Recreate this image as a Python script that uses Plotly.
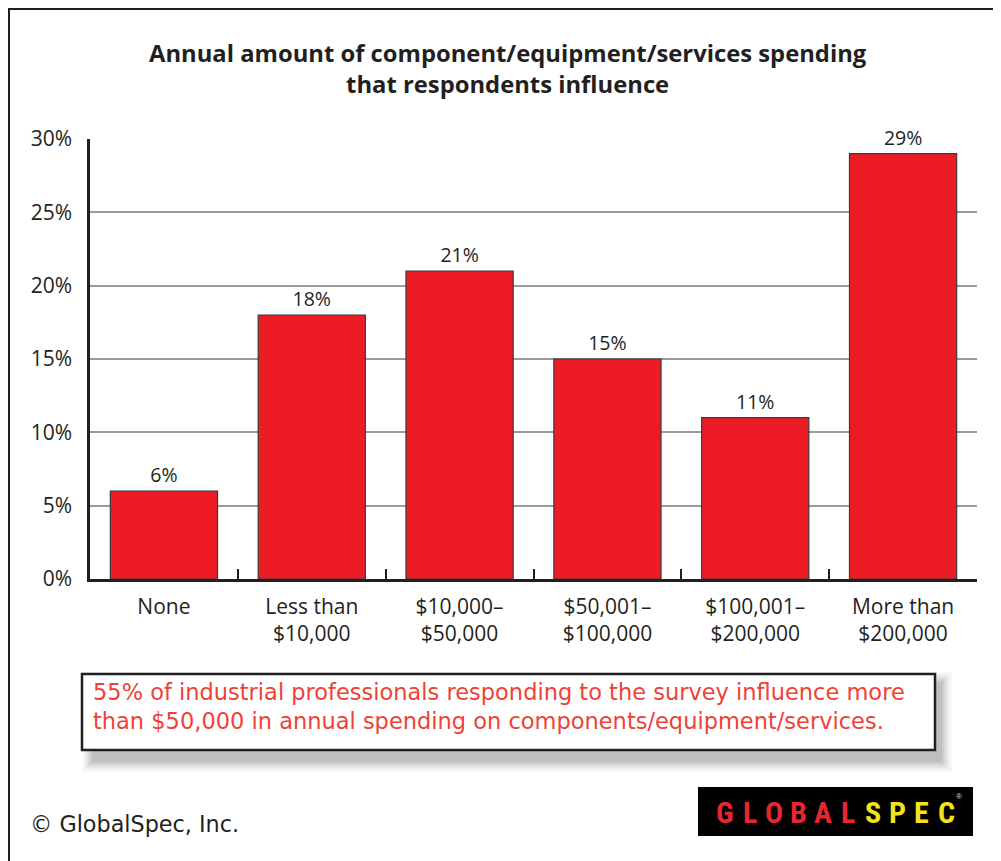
import plotly.graph_objects as go

# ---------------- data ----------------
categories = ["None", "Less than<br>$10,000", "$10,000–<br>$50,000",
              "$50,001–<br>$100,000", "$100,001–<br>$200,000", "More than<br>$200,000"]
values = [6, 18, 21, 15, 11, 29]
value_labels = ["6%", "18%", "21%", "15%", "11%", "29%"]
y_ticks = [0, 5, 10, 15, 20, 25, 30]
y_tick_labels = ["0%", "5%", "10%", "15%", "20%", "25%", "30%"]

title_text = "Annual amount of component/equipment/services spending<br>that respondents influence"
note_lines = ["55% of industrial professionals responding to the survey influence more",
              "than $50,000 in annual spending on components/equipment/services."]
copyright_text = "© GlobalSpec, Inc."
logo_letters = list("GLOBALSPEC")

# ---------------- geometry (page pixels) ----------------
PAGE_W, PAGE_H = 1001, 861
OFF = 8                       # default body margin of the html page
W, H = PAGE_W - OFF, PAGE_H - OFF
L, R, T, B = 90, 977, 139, 579   # plot area edges in page pixels


def px(x):
    return (x - L) / (R - L)


def py(y):
    return (B - y) / (B - T)


MYRIAD = "'Open Sans', Lato, sans-serif"
HELV = "'DejaVu Sans', 'Liberation Sans', sans-serif"
CONDENSED = "'Roboto Condensed', 'DejaVu Sans Condensed', 'Liberation Sans Narrow', 'Arial Narrow', sans-serif"
DARK = "#231F20"

fig = go.Figure()
fig.add_trace(go.Bar(
    x=categories, y=values, text=value_labels,
    marker=dict(color="#ED1C24", line=dict(color="#3a3a3a", width=1.2)),
    textposition="outside",
    textfont=dict(family=MYRIAD, size=19.5, color=DARK),
    cliponaxis=False, width=0.725, hoverinfo="skip",
))

shapes = []
# outer frame
shapes.append(dict(type="rect", xref="paper", yref="paper",
                   x0=px(9), x1=px(997), y0=py(9), y1=py(900),
                   line=dict(color=DARK, width=2), fillcolor="rgba(0,0,0,0)", layer="below"))
# soft shadow for the note box
for i, op in enumerate([0.035, 0.045, 0.055, 0.065, 0.075, 0.085]):
    g = 12 - 2 * i
    shapes.append(dict(type="rect", xref="paper", yref="paper",
                       x0=px(94 - g), x1=px(940 + g),
                       y0=py(684 - g), y1=py(760 + g),
                       line=dict(width=0), fillcolor=f"rgba(60,60,60,{op})", layer="above"))
# note box
shapes.append(dict(type="rect", xref="paper", yref="paper",
                   x0=px(82), x1=px(935), y0=py(674), y1=py(750),
                   line=dict(color=DARK, width=2.5), fillcolor="white", layer="above"))
# logo background
shapes.append(dict(type="rect", xref="paper", yref="paper",
                   x0=px(698), x1=px(973), y0=py(787), y1=py(836),
                   line=dict(width=0), fillcolor="black", layer="above"))

annotations = []
annotations.append(dict(xref="paper", yref="paper", x=px(508), y=py(68),
                        text=f"<b>{title_text}</b>", showarrow=False,
                        xanchor="center", yanchor="middle", align="center",
                        font=dict(family=MYRIAD, size=23.8, color=DARK)))
for i, line in enumerate(note_lines):
    annotations.append(dict(xref="paper", yref="paper", x=px(91), y=py(692 + 29 * i),
                            text=line, showarrow=False, xanchor="left", yanchor="middle",
                            font=dict(family=HELV, size=22.5, color="#EF4136")))
annotations.append(dict(xref="paper", yref="paper", x=px(28), y=py(824),
                        text=copyright_text, showarrow=False, xanchor="left", yanchor="middle",
                        font=dict(family=HELV, size=22.3, color=DARK)))
for i, ch in enumerate(logo_letters):
    annotations.append(dict(xref="paper", yref="paper", x=px(725 + 24.6 * i), y=py(812),
                            text=f"<b>{ch}</b>", showarrow=False, xanchor="center", yanchor="middle",
                            font=dict(family=CONDENSED, size=30,
                                      color="#E8262F" if i < 6 else "#F4E21C")))
annotations.append(dict(xref="paper", yref="paper", x=px(959), y=py(796),
                        text="®", showarrow=False, xanchor="center", yanchor="middle",
                        font=dict(family="'Liberation Sans', sans-serif", size=8, color="#dddddd")))

fig.update_layout(
    width=W, height=H,
    margin=dict(l=L - OFF, r=PAGE_W - R, t=T - OFF, b=PAGE_H - B, pad=0),
    paper_bgcolor="white", plot_bgcolor="white",
    showlegend=False, bargap=0.275,
    shapes=shapes, annotations=annotations,
    xaxis=dict(
        type="category", showline=True, linecolor=DARK, linewidth=2.5,
        ticks="inside", tickson="boundaries", ticklen=10, tickwidth=2, tickcolor=DARK,
        tickfont=dict(family=MYRIAD, size=21, color=DARK), showgrid=False,
        ticklabelstandoff=7,
    ),
    yaxis=dict(
        range=[0, 30], tickvals=y_ticks, ticktext=y_tick_labels,
        showline=True, linecolor=DARK, linewidth=2.5, ticks="",
        showgrid=True, gridcolor="#9b9b9b", gridwidth=2, zeroline=False,
        tickfont=dict(family=MYRIAD, size=21, color=DARK), ticklabelstandoff=11,
    ),
)

fig.write_html("out.html")
